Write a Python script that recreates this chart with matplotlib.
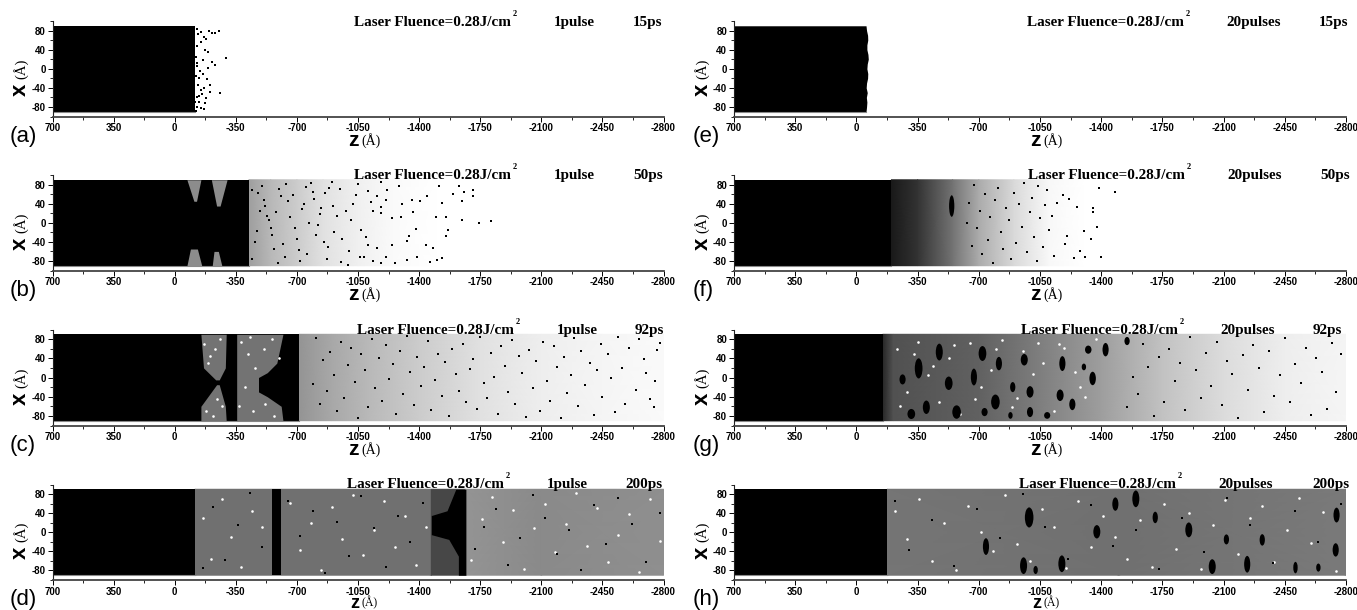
import matplotlib
matplotlib.use("Agg")
import matplotlib.pyplot as plt
from matplotlib.patches import Ellipse

plt.rcParams['font.family'] = ['Liberation Sans', 'DejaVu Sans']

W, H = 1357, 610

z_ticks = [700, 350, 0, -350, -700, -1050, -1400, -1750, -2100, -2450, -2800]
x_ticks = [-80, -40, 0, 40, 80]

# a column of the film is solid black up to this depth
solid_edge = [-115, -425, -712, -115, -58, -200, -150, -175]

# stippled zones too dense to read atom by atom: z nodes and the share of ink read at each
b_nodes = [-425, -550, -700, -850, -1050, -1250, -1500]
b_ink = [0.38, 0.28, 0.20, 0.12, 0.06, 0.02, 0.0]
c_nodes = [-712, -900, -1100, -1400, -1750, -2100, -2450, -2800]
c_ink = [0.42, 0.34, 0.28, 0.20, 0.12, 0.07, 0.04, 0.02]
d_nodes = [-115, -1470, -1470, -1668, -1668, -2100, -2800]
d_ink = [0.56, 0.56, 0.72, 0.72, 0.42, 0.46, 0.44]
f_nodes = [-200, -350, -550, -700, -900, -1100, -1300]
f_ink = [0.90, 0.80, 0.55, 0.33, 0.15, 0.03, 0.0]
g_nodes = [-150, -210, -700, -1000, -1400, -1750, -2100, -2450, -2800]
g_ink = [0.85, 0.68, 0.62, 0.52, 0.38, 0.24, 0.14, 0.07, 0.04]
h_nodes = [-175, -1500, -2800]
h_ink = [0.54, 0.56, 0.52]

# film outline of panel (e), read along x
e_x = [-90, -80, -70, -60, -50, -40, -30, -20, -10, 0, 10, 20, 30, 40, 50, 60, 70, 80, 90]
e_edge = [-55, -58, -60, -57, -62, -56, -58, -64, -65, -60, -62, -68, -66, -60, -60, -65, -64, -58, -55]

# voids cut out of the solid film: x, left z, right z, ink share
b_voids = [
    ([45, 90], [-110, -70], [-125, -150], 0.45),
    ([35, 90], [-240, -210], [-260, -300], 0.45),
    ([-90, -55], [-70, -90], [-155, -130], 0.45),
    ([-90, -60], [-215, -225], [-270, -250], 0.45),
]
c_voids = [
    ([-5, 20, 90], [-235, -165, -150], [-255, -290, -295], 0.55),
    ([-90, -60, -15], [-150, -150, -240], [-295, -290, -255], 0.55),
    ([-90, -60, -40, -30, 0, 10, 30, 90], [-355] * 8,
     [-620, -610, -530, -480, -480, -530, -585, -620], 0.55),
]

# solid slabs standing in the plume
d_slab_x = [-90, -50, -15, -5, 35, 45, 90]
d_slab_left = [-1625, -1625, -1570, -1470, -1470, -1560, -1610]
d_slab_right = -1668
d_col = (-558, -608)
f_blob = (-545, 35, 30, 45)

# dense clusters: z, x, z extent, x extent
g_clusters = [
    (-1425, 58, 35, 28), (-1326, 58, 37, 17), (-1351, -2, 37, 28), (-1178, 29, 35, 31),
    (-1165, -37, 40, 24), (-1235, -56, 35, 24), (-960, 37, 40, 24), (-721, 50, 44, 31),
    (-815, 29, 35, 28), (-993, -30, 40, 24), (-795, -51, 49, 31), (-993, -72, 35, 21),
    (-1091, -79, 35, 14), (-528, -12, 44, 28), (-356, 19, 44, 42), (-264, -4, 35, 21),
    (-474, 53, 40, 35), (-672, 1, 35, 35), (-400, -62, 40, 28), (-573, -72, 49, 28),
    (-314, -76, 44, 21), (-1548, 76, 30, 17), (-1301, 22, 25, 14), (-894, -20, 30, 21),
    (-733, -72, 35, 17), (-881, -79, 25, 14),
]
h_clusters = [
    (-988, 31, 49, 42), (-741, -30, 35, 35), (-956, -70, 40, 35), (-1175, -66, 40, 35),
    (-1025, -79, 25, 17), (-1375, 1, 40, 28), (-1481, 59, 35, 28), (-1598, 70, 40, 35),
    (-1709, 31, 30, 24), (-1901, 5, 40, 31), (-2116, -15, 30, 21), (-2321, -16, 30, 24),
    (-2035, -72, 40, 31), (-2235, -67, 35, 35), (-2511, -74, 25, 24), (-2642, -74, 25, 17),
    (-2746, 36, 35, 31), (-2741, -37, 35, 28),
]

# single atoms that can be made out
a_z = [-125, -135, -150, -165, -180, -198, -215, -233, -253, -295, -258, -216, -228, -190, -172,
       -150, -130, -120, -128, -145, -160, -185, -200, -140, -122, -135, -170, -148, -125, -158,
       -178, -205, -118, -140, -130, -165, -152, -122, -175, -142, -128, -190, -160]
a_x = [84, 72, 78, 66, 62, 80, 74, 74, 79, 23, -50, 15, 8, 35, 40,
       55, 48, 25, 5, -5, -10, -22, -35, -20, -15, -35, -40, -45, -60, -52,
       -62, -48, -70, -70, -80, -85, -82, -88, -72, -58, 12, 2, 18]
b_z = [-1811, -1742, -1648, -1710, -1710, -1655, -1648, -1593, -1630, -1531, -1514, -1556, -1494, -1568,
       -1556, -1531, -1501, -1464, -1481, -1437, -1387, -1382, -1328, -1345, -1332, -1367, -1295, -1303,
       -1362, -1444, -1407, -1283, -1216, -1184, -1208, -1246, -1184, -1134, -1184, -1109, -1159, -1263,
       -1184, -1134, -1208, -1159, -1246, -1109, -1084, -1050, -1020, -1070, -1000, -980, -1040, -960,
       -1095, -1010, -945, -1125, -1060, -990, -930, -900, -880, -915, -860, -950, -840, -905, -870,
       -820, -885, -800, -855, -780, -835, -760, -790, -810, -740, -770, -720, -750, -700, -730, -680,
       -710, -660, -640, -690, -620, -650, -600, -630, -580, -560, -610, -540, -590, -520, -570, -500,
       -550, -480, -530, -460, -510, -445, -490, -470, -440]
b_x = [3, 0, 6, 68, 55, 64, 45, 60, 76, 41, 78, 12, 12, -16,
       -27, -73, -79, -82, -53, -46, -71, -13, -78, -27, -39, 22, 13, 40,
       48, 55, 45, 78, 69, 85, 48, 10, 34, 24, 20, 66, 55, -85,
       -85, -81, -71, -53, -46, -46, -71, 82, 40, -15, -60, 25, 58, -35,
       -30, 5, 70, 44, -72, -88, 15, 85, -50, -20, 62, -82, 30, 35, -75,
       -5, 72, 50, -40, 84, 18, -65, 65, -25, 40, 0, -80, 75, -35, 28, 58,
       -58, 12, 82, -12, -45, 45, 70, -72, 22, -25, 55, 5, -85, 35, -55, 78,
       -10, 62, 15, -40, 48, -75, 25, -18, 68]
c_z = [-2780, -2760, -2750, -2745, -2720, -2700, -2690, -2660, -2640, -2600, -2580, -2560, -2540, -2520,
       -2500, -2480, -2450, -2440, -2420, -2400, -2380, -2350, -2330, -2310, -2290, -2270, -2250, -2230,
       -2210, -2190, -2170, -2150, -2130, -2110, -2090, -2070, -2050, -2030, -2010, -1990, -1970, -1950,
       -1930, -1910, -1890, -1870, -1850, -1830, -1810, -1790, -1770, -1750, -1730, -1710, -1690, -1670,
       -1650, -1630, -1610, -1590, -1570, -1550, -1530, -1510, -1490, -1470, -1450, -1430, -1410, -1390,
       -1370, -1350, -1330, -1310, -1290, -1270, -1250, -1230, -1210, -1190, -1170, -1150, -1130, -1110,
       -1090, -1070, -1050, -1030, -1010, -990, -970, -950, -930, -910, -890, -870, -850, -830, -810, -790]
c_x = [72, 58, -8, -62, -45, 10, 38, 80, -25, 62, -55, 20, 84, -72,
       -2, 48, -40, 70, 15, -78, 30, -15, 55, -60, 82, 5, -32, 42,
       -85, 22, 66, -48, -8, 75, -70, 35, -22, 58, -82, 10, 45, -55,
       78, -30, 25, 65, -75, 2, 52, -42, -12, 84, -65, 38, 18, -52,
       70, -28, 8, 60, -80, 32, -38, 50, -6, -68, 76, 22, -18, 42,
       -58, 12, 86, -34, 56, -76, 28, -4, 68, -48, 40, -22, 80, -62,
       16, 48, -84, -10, 62, 26, -42, 74, -70, 6, 54, -28, 36, -56, 82, -14]
d_z = [-2780, -2700, -2620, -2540, -2470, -2400, -2330, -2260, -2190, -2120, -2050, -1980, -1910, -1840,
       -1770, -1720, -1420, -1350, -1280, -1210, -1140, -1070, -1000, -930, -860, -790, -720, -650,
       -500, -430, -360, -290, -220, -160]
d_x = [40, -62, 18, 72, -25, 58, -80, 5, -45, 30, 78, -12, -68, 48,
       12, -35, 62, -20, 35, -72, 8, 75, -50, 22, -85, 44, -8, 66,
       -30, 82, 15, -58, 52, -75]
f_z = [-1480, -1400, -1385, -1375, -1355, -1355, -1340, -1305, -1300, -1280, -1260, -1245, -1215, -1205,
       -1195, -1180, -1150, -1130, -1120, -1100, -1090, -1080, -1065, -1050, -1040, -1030, -1015, -1005,
       -990, -975, -960, -945, -930, -915, -900, -885, -870, -855, -840, -825, -810, -795, -780, -765,
       -750, -735, -720, -705, -690, -675, -660, -645, -630]
f_x = [65, -72, 72, -8, 22, 30, -35, -72, -18, -60, 32, -74, 50, -28,
       -45, 58, 42, -70, 15, -15, 68, 38, -50, 10, 78, -80, -30, 52,
       22, -62, 84, -8, 40, -42, 62, -75, 5, 30, -55, -20, 72, 48, -85, 12,
       -36, 60, -66, 25, -10, 80, -48, 42, 0]
g_z = [-2770, -2745, -2720, -2690, -2660, -2630, -2600, -2570, -2540, -2510, -2480, -2450, -2420, -2390,
       -2360, -2330, -2300, -2270, -2240, -2210, -2180, -2150, -2120, -2090, -2060, -2030, -2000, -1970,
       -1940, -1910, -1880, -1850, -1820, -1790, -1760, -1730, -1700, -1670, -1640, -1610, -1580, -1550]
g_x = [50, -30, 72, -65, 12, 40, -78, 62, -12, 28, -50, 82, 5, -38,
       55, -72, 20, 68, -25, 46, -85, 8, 34, -58, 75, -18, 52, -42,
       15, 84, -68, 30, -8, 60, -52, 42, -80, 22, 70, -35, 2, -62]
h_z = [-2770, -2640, -2510, -2380, -2250, -2120, -1990, -1860, -1730, -1600, -1470, -1340, -1210, -1080,
       -950, -820, -690, -560, -430, -300, -220]
h_x = [60, -20, 45, -65, 15, 72, -42, 30, -78, 5, -28, 58, -55, 10,
       80, -12, 48, -70, 25, -38, 66]

# white gaps in the stipple
c_gap_z = [-170, -200, -230, -260, -190, -240, -180, -220, -270, -380, -420, -460, -510, -560, -600, -400, -450, -520, -570, -370, -430]
c_gap_x = [70, 45, 60, 80, 30, -45, -70, -80, -60, 75, 50, 20, 60, 80, 40, -20, -70, -55, -80, -60, 85]
d_gap_z = [-160, -210, -270, -320, -380, -440, -500, -660, -720, -780, -840, -900, -960, -1020, -1080, -1140,
           -1200, -1260, -1320, -1380, -1440, -1700, -1760, -1820, -1880, -1940, -2000, -2060, -2120, -2180,
           -2240, -2300, -2360, -2420, -2480, -2540, -2600, -2660, -2720, -2780]
d_gap_x = [30, -55, 70, -10, -72, 45, 10, 62, -38, 20, -80, 52, -15, 78, -48, 5,
           66, -30, 35, -68, 12, -58, 28, 74, -20, 46, -76, 8, 60, -42,
           18, 82, -28, 50, -62, -5, 38, -84, 70, -18]
g_gap_z = [-230, -290, -350, -410, -470, -530, -590, -650, -710, -770, -830, -890, -950, -1010, -1070, -1130,
           -1190, -1250, -1310, -1370, -250, -330, -440, -560, -680, -800, -920, -1040, -1160, -1280]
g_gap_x = [60, -30, 75, 5, -50, 40, -75, 72, -20, 15, 78, -62, 55, 8, 30, -70,
           62, 12, -40, 80, -60, 50, 25, 68, -45, 60, -42, 72, 70, -20]
h_gap_z = [-220, -290, -360, -430, -500, -570, -640, -710, -780, -850, -920, -990, -1060, -1130, -1200, -1270,
           -1340, -1410, -1480, -1550, -1620, -1690, -1760, -1830, -1900, -1970, -2040, -2110, -2180, -2250,
           -2320, -2390, -2460, -2530, -2600, -2670, -2740]
h_gap_x = [45, -15, 70, -60, 20, -80, 55, 0, -40, 78, -25, -60, 48, 12, -75, 65,
           -30, 34, -10, -55, 25, -72, 60, -35, 40, -78, 15, 68, -45, 30,
           55, -62, 5, 72, -22, 42, -82]


def fig_text(fig, px, py, s, **kw):
    # positions are given in reference pixels, origin top left
    fig.text(px / W, 1 - py / H, s, **kw)


def draw_panel(fig, box, letter, pulses, time, title_x, title_y, pulse_x, time_x):
    left, top, right, bottom = box
    ax = fig.add_axes([left / W, 1 - bottom / H, (right - left) / W, (bottom - top) / H])
    ax.set_xlim(700, -2800)
    ax.set_ylim(-100, 100)
    for s in ('top', 'right'):
        ax.spines[s].set_visible(False)
    ax.spines['left'].set_linewidth(0.8)
    ax.spines['left'].set_color('#222222')
    ax.spines['bottom'].set_linewidth(1.3)
    ax.spines['bottom'].set_color('#444444')

    ax.set_xticks(z_ticks)
    ax.set_xticks(range(-2625, 700, 350), minor=True)
    ax.set_yticks(x_ticks)
    ax.set_yticks([-100, -60, -20, 20, 60, 100], minor=True)
    ax.tick_params(axis='both', which='major', labelsize=7, length=3.5, width=0.7, pad=1.5)
    ax.tick_params(axis='both', which='minor', length=2, width=0.6)
    for t in ax.get_xticklabels() + ax.get_yticklabels():
        t.set_fontweight('bold')
    ax.xaxis.set_major_formatter(lambda v, p: f'{v:.0f}')
    ax.yaxis.set_major_formatter(lambda v, p: f'{v:.0f}')

    serif = dict(family='Liberation Serif', fontweight='bold', va='center', color='black')
    fig_text(fig, title_x, title_y + 1.5, 'Laser Fluence=0.28J/cm', fontsize=10.9, **serif)
    fig_text(fig, title_x + 159, title_y - 7, '2', fontsize=6, **serif)
    fig_text(fig, pulse_x, title_y + 1.5, pulses, fontsize=10.9, **serif)
    fig_text(fig, time_x, title_y + 1.5, time, fontsize=10.9, **serif)

    mid = (left + right) / 2
    fig_text(fig, left - 43 if left < 100 else left - 41, bottom + 20, letter, fontsize=16,
             va='center', ha='left')
    # the last row has little room under its tick labels
    last_row = bottom > 500
    zlabel_y = 603 if last_row else bottom + 24
    fig_text(fig, mid + 1, zlabel_y, 'z', fontsize=13 if last_row else 15, fontweight='bold',
             ha='right', va='center')
    fig_text(fig, mid + 3, zlabel_y, '(Å)', fontsize=8.5 if last_row else 10, family='Liberation Serif',
             ha='left', va='center')
    ymid = (top + bottom) / 2 + 10
    fig_text(fig, left - 32, ymid + 11, 'x', fontsize=16, fontweight='bold', rotation=90,
             ha='center', va='center')
    fig_text(fig, left - 32, ymid - 10, '(Å)', fontsize=10.5, family='Liberation Serif', rotation=90,
             ha='center', va='center')
    return ax


def solid(ax, edge):
    ax.fill_betweenx([-90, 90], 700, edge, color='black', lw=0, zorder=2)
    ax.plot([700, edge], [-90.5, -90.5], color='#8a8a8a', lw=0.8, zorder=2)


def stipple(ax, nodes, ink):
    # smooth shade between the readings instead of hard bands
    ax.pcolormesh([nodes, nodes], [[-90] * len(nodes), [90] * len(nodes)], [ink, ink],
                  shading='gouraud', cmap='gray_r', vmin=0, vmax=1, zorder=1)


def voids(ax, items):
    for x, zl, zr, c in items:
        ax.fill_betweenx(x, zl, zr, color=str(1 - c), lw=0, zorder=3)


def dots(ax, z, x):
    ax.scatter(z, x, s=1.0, c='black', marker='s', linewidths=0, zorder=5)


def gaps(ax, z, x):
    ax.scatter(z, x, s=3.5, c='white', marker='o', linewidths=0, zorder=4)


def clusters(ax, items):
    for z, x, wz, hx in items:
        ax.add_patch(Ellipse((z, x), wz, hx, color='black', lw=0, zorder=6))


def main():
    fig = plt.figure(figsize=(W / 100, H / 100), dpi=100)
    lx, rx = (52.5, 663.5), (734, 1346)
    rows = [(21, 116.5), (175, 270.5), (329.5, 425.5), (484.5, 580)]

    ax = draw_panel(fig, (lx[0], rows[0][0], lx[1], rows[0][1]), '(a)', '1pulse', '15ps', 354, 21, 554, 633)
    solid(ax, solid_edge[0])
    dots(ax, a_z, a_x)

    ax = draw_panel(fig, (lx[0], rows[1][0], lx[1], rows[1][1]), '(b)', '1pulse', '50ps', 354, 174, 554, 633)
    stipple(ax, b_nodes, b_ink)
    solid(ax, solid_edge[1])
    voids(ax, b_voids)
    dots(ax, b_z, b_x)

    ax = draw_panel(fig, (lx[0], rows[2][0], lx[1], rows[2][1]), '(c)', '1pulse', '92ps', 357, 329, 557, 635)
    stipple(ax, c_nodes, c_ink)
    solid(ax, solid_edge[2])
    voids(ax, c_voids)
    gaps(ax, c_gap_z, c_gap_x)
    dots(ax, c_z, c_x)

    ax = draw_panel(fig, (lx[0], rows[3][0], lx[1], rows[3][1]), '(d)', '1pulse', '200ps', 347, 483, 547, 625)
    stipple(ax, d_nodes, d_ink)
    solid(ax, solid_edge[3])
    gaps(ax, d_gap_z, d_gap_x)
    ax.fill_betweenx([-90, 90], d_col[0], d_col[1], color='black', lw=0, zorder=6)
    ax.fill_betweenx(d_slab_x, d_slab_left, d_slab_right, color='black', lw=0, zorder=6)
    dots(ax, d_z, d_x)

    ax = draw_panel(fig, (rx[0], rows[0][0], rx[1], rows[0][1]), '(e)', '20pulses', '15ps', 1027, 21, 1226, 1319)
    ax.fill_betweenx(e_x, 700, e_edge, color='black', lw=0, zorder=2)
    ax.plot([700, -55], [-90.5, -90.5], color='#8a8a8a', lw=0.8, zorder=2)

    ax = draw_panel(fig, (rx[0], rows[1][0], rx[1], rows[1][1]), '(f)', '20pulses', '50ps', 1028, 174, 1227, 1320)
    stipple(ax, f_nodes, f_ink)
    solid(ax, solid_edge[5])
    clusters(ax, [f_blob])
    dots(ax, f_z, f_x)

    ax = draw_panel(fig, (rx[0], rows[2][0], rx[1], rows[2][1]), '(g)', '20pulses', '92ps', 1021, 329, 1220, 1313)
    stipple(ax, g_nodes, g_ink)
    solid(ax, solid_edge[6])
    gaps(ax, g_gap_z, g_gap_x)
    clusters(ax, g_clusters)
    dots(ax, g_z, g_x)

    ax = draw_panel(fig, (rx[0], rows[3][0], rx[1], rows[3][1]), '(h)', '20pulses', '200ps', 1019, 483, 1218, 1312)
    stipple(ax, h_nodes, h_ink)
    solid(ax, solid_edge[7])
    gaps(ax, h_gap_z, h_gap_x)
    clusters(ax, h_clusters)
    dots(ax, h_z, h_x)

    fig.savefig("out.png", dpi=100)


if __name__ == "__main__":
    main()
